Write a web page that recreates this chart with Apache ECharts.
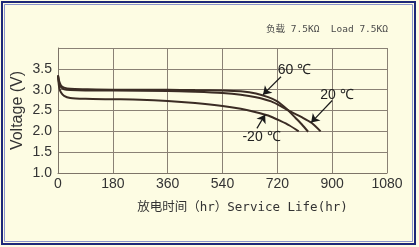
<!DOCTYPE html>
<html>
<head>
<meta charset="utf-8">
<script src="https://cdn.jsdelivr.net/npm/echarts@6/dist/echarts.min.js"></script>
<style>
html,body{margin:0;padding:0;background:#ffffff;}
#chart{width:419px;height:247px;}
</style>
</head>
<body>
<div id="chart"></div>
<script>
// Data
const seriesNames = ['60 ℃', '20 ℃', '-20 ℃'];
const hot60 = [[0,3.35],[4,3.2],[10,3.1],[20,3.05],[40,3.02],[90,3.01],[180,3.0],[360,3.0],[450,2.99],[540,2.98],[600,2.96],[650,2.91],[690,2.82],[720,2.72],[750,2.54],[780,2.32],[800,2.17],[821,1.99]];
const room20 = [[0,3.33],[4,3.15],[10,3.06],[20,3.01],[40,2.99],[90,2.98],[180,2.98],[360,2.97],[450,2.95],[540,2.92],[600,2.88],[650,2.82],[700,2.72],[740,2.57],[770,2.45],[800,2.34],[833,2.2],[862,2.0]];
const cold20 = [[0,3.33],[4,3.05],[10,2.93],[20,2.85],[40,2.8],[90,2.78],[180,2.77],[270,2.76],[360,2.73],[450,2.68],[540,2.61],[600,2.54],[650,2.46],[690,2.38],[730,2.25],[760,2.14],[790,2.0]];
const xTicks = [0,180,360,540,720,900,1080];
const yTicks = [1.0,1.5,2.0,2.5,3.0,3.5,4.0];
// annotation arrows: [start, tip]
const arrow60 = [[732,3.31],[673,2.88]];
const arrow20 = [[900,2.74],[831,2.21]];
const arrowM20 = [[653,2.07],[680,2.40]];
const labelPos = [[776,3.48],[916,2.86],[668,1.86]];
const loadText = '负载 7.5KΩ  Load 7.5KΩ';

const lineColor = '#3b2c24';
const chart = echarts.init(document.getElementById('chart'));

function mkSeries(name, data, arrow, lpos){
  return {
    name: name, type: 'line', data: data, showSymbol: false, symbol: 'none',
    smooth: 0.25,
    lineStyle: {color: lineColor, width: 2},
    markLine: {
      silent: true, symbol: ['none','arrow'], symbolSize: 8,
      lineStyle: {color: '#1a1a1a', width: 1.2, type: 'solid'},
      label: {show: false},
      emphasis: {disabled: true},
      data: [[{coord: arrow[0]}, {coord: arrow[1]}]]
    },
    markPoint: {
      silent: true, symbol: 'circle', symbolSize: 0,
      label: {show: true, formatter: name, color: '#222', fontSize: 14,
              fontFamily: 'Liberation Sans, Arial, sans-serif', position: 'inside'},
      data: [{coord: lpos}]
    },
    z: 3
  };
}

chart.setOption({
  backgroundColor: '#fdfce3',
  animation: false,
  grid: {left: 58, right: 32, top: 48, bottom: 74, containLabel: false, outerBoundsMode: 'none'},
  graphic: [
    {type: 'rect', shape: {x: 2, y: 2, width: 413, height: 242}, style: {fill: 'none', stroke: '#1d2878', lineWidth: 2}},
    {type: 'rect', shape: {x: 4.5, y: 4.5, width: 408, height: 237}, style: {fill: 'none', stroke: '#8a93cc', lineWidth: 1}},
    {type: 'text', right: 31, top: 25, style: {text: loadText, fill: '#4a4a4a', fontSize: 9.5,
      fontFamily: "'DejaVu Sans Mono', 'Noto Sans CJK SC', monospace"}}
  ],
  xAxis: {
    type: 'value', min: 0, max: 1080, interval: 180,
    name: '放电时间（hr）Service Life(hr)', nameLocation: 'middle', nameGap: 28, nameMoveOverlap: false,
    nameTextStyle: {fontSize: 12.5, color: '#333', padding: [0, 0, 0, 40],
      fontFamily: "'DejaVu Sans Mono', 'Noto Sans CJK SC', monospace"},
    axisLine: {show: true, lineStyle: {color: '#7d7468', width: 1}},
    axisTick: {show: false},
    axisLabel: {fontSize: 14, color: '#333', margin: 4, fontFamily: 'Liberation Sans, Arial, sans-serif',
      formatter: v => xTicks.includes(v) ? String(v) : ''},
    splitLine: {show: true, lineStyle: {color: '#8a8175', width: 1}}
  },
  yAxis: {
    type: 'value', min: 1, max: 4, interval: 0.5,
    name: 'Voltage (V)', nameLocation: 'middle', nameGap: 32, nameRotate: 90, nameMoveOverlap: false,
    nameTextStyle: {fontSize: 16, color: '#333', fontFamily: 'Liberation Sans, Arial, sans-serif'},
    axisLine: {show: true, lineStyle: {color: '#7d7468', width: 1}},
    axisTick: {show: false},
    axisLabel: {fontSize: 14, color: '#333', margin: 6, fontFamily: 'Liberation Sans, Arial, sans-serif',
      formatter: v => (v >= 4 || !yTicks.includes(v)) ? '' : v.toFixed(1)},
    splitLine: {show: true, lineStyle: {color: '#8a8175', width: 1}}
  },
  series: [
    mkSeries(seriesNames[0], hot60, arrow60, labelPos[0]),
    mkSeries(seriesNames[1], room20, arrow20, labelPos[1]),
    mkSeries(seriesNames[2], cold20, arrowM20, labelPos[2])
  ]
});
</script>
</body>
</html>
